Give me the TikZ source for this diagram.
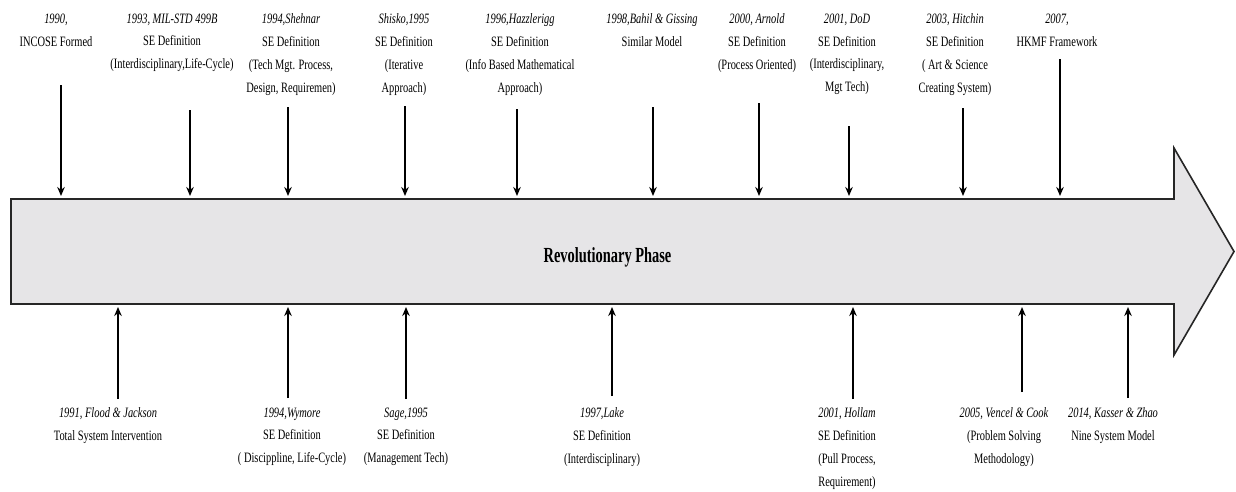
\documentclass[tikz,border=0pt]{standalone}
\usepackage{fontspec}
\setmainfont[FakeStretch=0.73]{Liberation Serif}
\newfontfamily\titlefont[FakeStretch=0.67]{Liberation Serif}
\usetikzlibrary{arrows.meta}
\definecolor{bodygray}{RGB}{230,229,231}
\tikzset{
  lbl/.style={align=center, anchor=north, inner sep=0pt,
              font=\fontsize{14.3}{22.8}\selectfont},
  ptr/.style={line width=2pt, -{Stealth[length=9pt,width=7.5pt]}},
  body/.style={fill=bodygray, draw=black!85, line width=1.6pt, line join=miter},
}
\begin{document}
\begin{tikzpicture}[x=1pt,y=-1pt]
\useasboundingbox (0,0) rectangle (1236,491);

% timeline body: a wide block arrow pointing right
\draw[body] (11,199) -- (1174,199) -- (1174,148) -- (1234,251.5)
  -- (1174,355) -- (1174,304) -- (11,304) -- cycle;
\node[anchor=base, inner sep=0pt, font=\titlefont\bfseries\fontsize{21.5}{24}\selectfont]
  (phase) at (607.5,262) {Revolutionary Phase};

% events above the timeline
\node[lbl] (t1)  at (56,13.5)   {\textit{1990,}\\INCOSE Formed};
\node[lbl] (t2)  at (172,13.5)  {\textit{1993, MIL-STD 499B}\\SE Definition\\(Interdisciplinary,Life-Cycle)};
\node[lbl] (t3)  at (291,13.5)  {\textit{1994,Shehnar}\\SE Definition\\(Tech Mgt. Process,\\Design, Requiremen)};
\node[lbl] (t4)  at (404,13.5)  {\textit{Shisko,1995}\\SE Definition\\(Iterative\\Approach)};
\node[lbl] (t5)  at (520,13.5)  {\textit{1996,Hazzlerigg}\\SE Definition\\(Info Based Mathematical\\Approach)};
\node[lbl] (t6)  at (652,13.5)  {\textit{1998,Bahil \& Gissing}\\Similar Model};
\node[lbl] (t7)  at (757,13.5)  {\textit{2000, Arnold}\\SE Definition\\(Process Oriented)};
\node[lbl] (t8)  at (847,13.5)  {\textit{2001, DoD}\\SE Definition\\(Interdisciplinary,\\Mgt Tech)};
\node[lbl] (t9)  at (955,13.5)  {\textit{2003, Hitchin}\\SE Definition\\( Art \& Science\\Creating System)};
\node[lbl] (t10) at (1057,13.5) {\textit{2007,}\\HKMF Framework};

% events below the timeline
\node[lbl] (b1) at (108,407.5)  {\textit{1991, Flood \& Jackson}\\Total System Intervention};
\node[lbl] (b2) at (292,407.5)  {\textit{1994,Wymore}\\SE Definition\\( Discippline, Life-Cycle)};
\node[lbl] (b3) at (406,407.5)  {\textit{Sage,1995}\\SE Definition\\(Management Tech)};
\node[lbl] (b4) at (602,407.5)  {\textit{1997,Lake}\\SE Definition\\(Interdisciplinary)};
\node[lbl] (b5) at (847,407.5)  {\textit{2001, Hollam}\\SE Definition\\(Pull Process,\\Requirement)};
\node[lbl] (b6) at (1004,407.5) {\textit{2005, Vencel \& Cook}\\(Problem Solving\\Methodology)};
\node[lbl] (b7) at (1113,407.5) {\textit{2014, Kasser \& Zhao}\\Nine System Model};

% pointers down onto the top edge
\foreach \n/\x/\y in {1/61/85, 2/190/110, 3/288/107, 4/405/106, 5/517/109,
                      6/653/107, 7/759/103, 8/849/126, 9/963/108, 10/1060/59} {
  \coordinate (ts\n) at (\x,\y);
  \coordinate (te\n) at (\x,196);
  \draw[ptr] (ts\n) -- (te\n);
}
% pointers up onto the bottom edge
\foreach \n/\x/\y in {1/118/399, 2/288/398, 3/406/399, 4/612/396,
                      5/853/399, 6/1022/392, 7/1128/398} {
  \coordinate (bs\n) at (\x,\y);
  \coordinate (be\n) at (\x,307);
  \draw[ptr] (bs\n) -- (be\n);
}
\end{tikzpicture}
\end{document}
